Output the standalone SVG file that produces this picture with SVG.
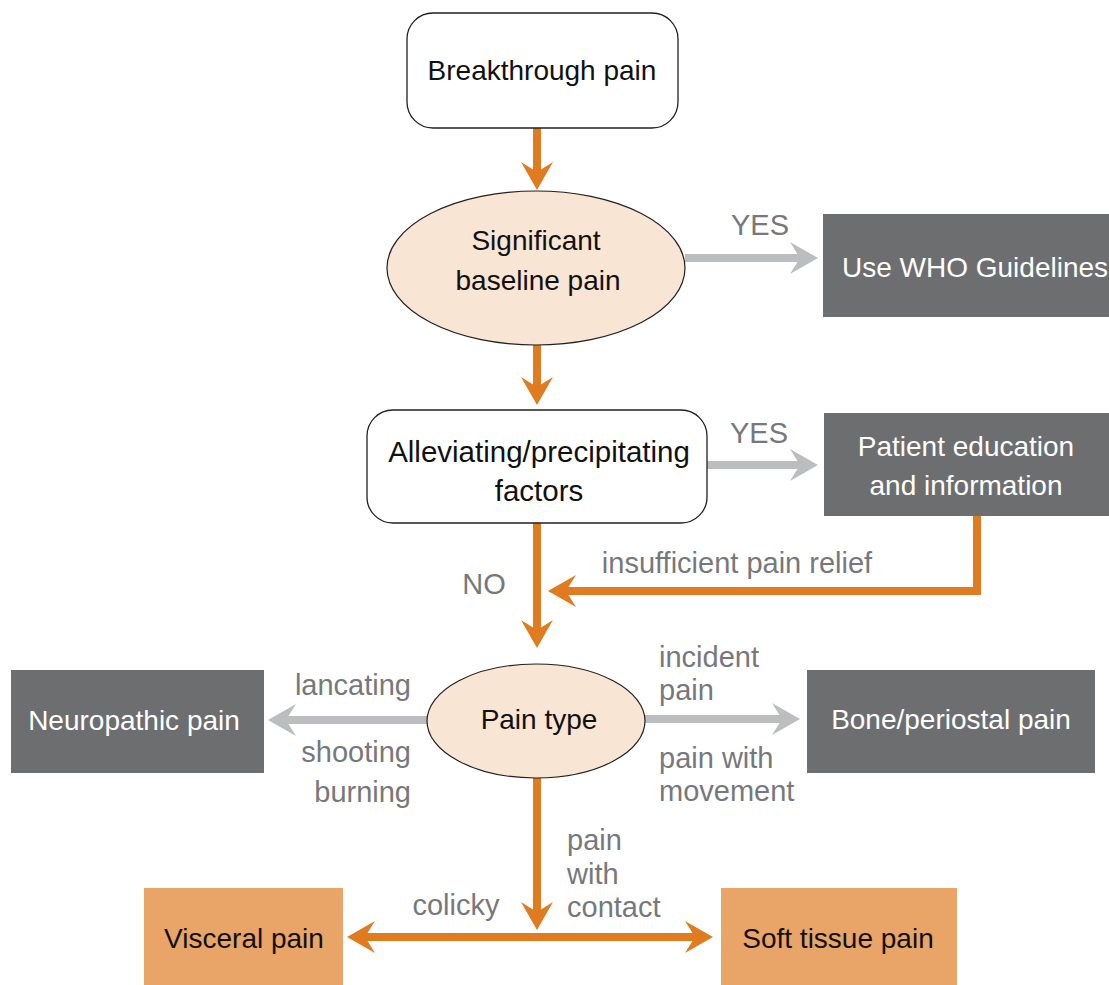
<svg xmlns="http://www.w3.org/2000/svg" width="1109" height="985" viewBox="0 0 1109 985">
<style>
.t{font-family:"Liberation Sans",Arial,sans-serif;font-size:28px;text-anchor:middle;fill:#111}
.w{fill:#fff}
.l{font-family:"Liberation Sans",Arial,sans-serif;font-size:29px;fill:#77787b}
.rb{fill:#fff;stroke:#231f20;stroke-width:1.3}
.el{fill:#f8e5d3;stroke:#231f20;stroke-width:1.2}
.dk{fill:#6d6e70}
.or{fill:#e9a467}
.co{fill:none;stroke:#e07b1f;stroke-width:8}
.cg{fill:none;stroke:#bcbdc0;stroke-width:8}
</style>
<defs>
<marker id="ao" markerUnits="userSpaceOnUse" viewBox="-30 -18 32 36" refX="-18" refY="0" markerWidth="32" markerHeight="36" orient="auto-start-reverse">
<path d="M0,0 L-28,-16 L-18,0 L-28,16 Z" fill="#e07b1f"/>
</marker>
<marker id="ag" markerUnits="userSpaceOnUse" viewBox="-30 -18 32 36" refX="-18" refY="0" markerWidth="32" markerHeight="36" orient="auto">
<path d="M0,0 L-28,-16 L-18,0 L-28,16 Z" fill="#bcbdc0"/>
</marker>
</defs>
<g id="connectors">
<path class="co" d="M537,128 V172" marker-end="url(#ao)"/>
<path class="co" d="M537,345 V387" marker-end="url(#ao)"/>
<path class="cg" d="M685,258 H800" marker-end="url(#ag)"/>
<path class="cg" d="M707,465 H800" marker-end="url(#ag)"/>
<path class="co" d="M977,516 V591 H566" marker-end="url(#ao)"/>
<path class="co" d="M537,523 V630" marker-end="url(#ao)"/>
<path class="cg" d="M427,720 H286" marker-end="url(#ag)"/>
<path class="cg" d="M645,719 H782" marker-end="url(#ag)"/>
<path class="co" d="M537,778 V912" marker-end="url(#ao)"/>
<path class="co" d="M365,937 H695" marker-start="url(#ao)" marker-end="url(#ao)"/>
<text class="l" x="760" y="235" text-anchor="middle">YES</text>
<text class="l" x="759" y="443" text-anchor="middle">YES</text>
<text class="l" x="737" y="573" text-anchor="middle">insufficient pain relief</text>
<text class="l" x="484" y="594" text-anchor="middle">NO</text>
<text class="l" x="411" y="695" text-anchor="end">lancating</text>
<text class="l" x="411" y="762" text-anchor="end">shooting</text>
<text class="l" x="411" y="802" text-anchor="end">burning</text>
<text class="l" x="659" y="667">incident</text>
<text class="l" x="659" y="700">pain</text>
<text class="l" x="659" y="768">pain with</text>
<text class="l" x="659" y="801">movement</text>
<text class="l" x="567" y="850">pain</text>
<text class="l" x="567" y="884">with</text>
<text class="l" x="567" y="917">contact</text>
<text class="l" x="456" y="915" text-anchor="middle">colicky</text>
</g>
<g id="breakthrough">
<rect class="rb" x="407" y="13" width="271" height="115" rx="26"/>
<text class="t" x="542" y="80">Breakthrough pain</text>
</g>
<g id="baseline">
<ellipse class="el" cx="536" cy="268" rx="149" ry="77"/>
<text class="t" x="536" y="250">Significant</text>
<text class="t" x="538" y="290">baseline pain</text>
</g>
<g id="who">
<rect class="dk" x="823" y="214" width="286" height="103"/>
<text class="t w" x="975" y="277">Use WHO Guidelines</text>
</g>
<g id="factors">
<rect class="rb" x="367" y="410" width="340" height="113" rx="26"/>
<text class="t" x="539" y="462" style="font-size:29.5px">Alleviating/precipitating</text>
<text class="t" x="539" y="501" style="font-size:29.5px">factors</text>
</g>
<g id="education">
<rect class="dk" x="824" y="413" width="285" height="103"/>
<text class="t w" x="966" y="456">Patient education</text>
<text class="t w" x="966" y="495">and information</text>
</g>
<g id="paintype">
<ellipse class="el" cx="536" cy="721" rx="109" ry="57"/>
<text class="t" x="539" y="729">Pain type</text>
</g>
<g id="neuropathic">
<rect class="dk" x="11" y="670" width="253" height="103"/>
<text class="t w" x="134" y="730">Neuropathic pain</text>
</g>
<g id="bone">
<rect class="dk" x="807" y="670" width="288" height="103"/>
<text class="t w" x="951" y="729">Bone/periostal pain</text>
</g>
<g id="visceral">
<rect class="or" x="144" y="888" width="199" height="97"/>
<text class="t" x="244" y="948">Visceral pain</text>
</g>
<g id="softtissue">
<rect class="or" x="721" y="888" width="236" height="97"/>
<text class="t" x="838" y="948">Soft tissue pain</text>
</g>
</svg>
